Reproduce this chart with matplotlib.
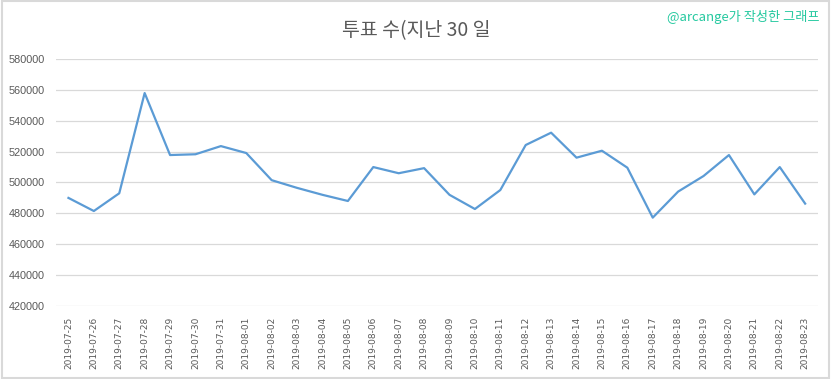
import matplotlib.pyplot as plt
from matplotlib.patches import Rectangle

plt.rcParams['font.family'] = ['Noto Sans CJK KR', 'DejaVu Sans']

# data
dates = ["2019-07-25", "2019-07-26", "2019-07-27", "2019-07-28", "2019-07-29",
         "2019-07-30", "2019-07-31", "2019-08-01", "2019-08-02", "2019-08-03",
         "2019-08-04", "2019-08-05", "2019-08-06", "2019-08-07", "2019-08-08",
         "2019-08-09", "2019-08-10", "2019-08-11", "2019-08-12", "2019-08-13",
         "2019-08-14", "2019-08-15", "2019-08-16", "2019-08-17", "2019-08-18",
         "2019-08-19", "2019-08-20", "2019-08-21", "2019-08-22", "2019-08-23"]
votes = [490000, 481500, 493000, 558000, 517800,
         518300, 523600, 519100, 501500, 496500,
         492000, 488000, 510000, 506000, 509300,
         492000, 482800, 495100, 524300, 532300,
         516100, 520600, 509600, 477200, 494100,
         504200, 517800, 492300, 510000, 486300]
yticks = list(range(420000, 580001, 20000))

fig = plt.figure(figsize=(8.32, 3.79), dpi=100)
ax = fig.add_axes([0.067, 0.193, 0.916, 0.651])

x = list(range(len(dates)))
ax.plot(x, votes, color="#5b9bd5", linewidth=1.6)

ax.set_xlim(-0.5, len(dates) - 0.5)
ax.set_ylim(420000, 580000)
ax.set_yticks(yticks)
ax.set_yticklabels([str(v) for v in yticks], fontsize=7.8, color="#595959",
                   family=["Liberation Sans", "DejaVu Sans"])
ax.set_xticks(x)
ax.set_xticklabels(dates, rotation=90, fontsize=6.5, color="#595959",
                   family=["DejaVu Sans"])
ax.tick_params(axis="y", length=0, pad=8)
ax.tick_params(axis="x", length=0, pad=8)

ax.grid(axis="y", color="#d9d9d9", linewidth=0.9)
ax.set_axisbelow(True)
for s in ax.spines.values():
    s.set_visible(False)

# title and watermark
fig.text(0.5, 0.92, "투표 수(지난 30 일", fontsize=14, color="#595959",
         ha="center", va="center")
fig.text(0.985, 0.955, "@arcange가 작성한 그래프", fontsize=9.5, color="#26c9a0",
         ha="right", va="center")

# chart border
fig.patches.append(Rectangle((0.002, 0.003), 0.994, 0.994, transform=fig.transFigure,
                             fill=False, edgecolor="#d9d9d9", linewidth=1.5))

fig.savefig("out.png", dpi=100)
